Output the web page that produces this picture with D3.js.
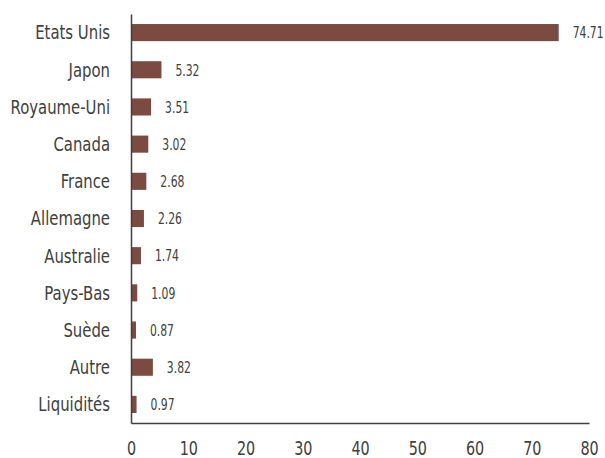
<!DOCTYPE html>
<html><head><meta charset="utf-8">
<script src="https://cdn.jsdelivr.net/npm/d3@7"></script>
<style>body{margin:0;background:#fff}svg{display:block}</style>
</head><body><svg id="c" width="605" height="458"></svg>
<script>
const categories = ["Etats Unis","Japon","Royaume-Uni","Canada","France","Allemagne","Australie","Pays-Bas","Suède","Autre","Liquidités"];
const values = [74.71,5.32,3.51,3.02,2.68,2.26,1.74,1.09,0.87,3.82,0.97];
const xTicks = [0,10,20,30,40,50,60,70,80];

const svg = d3.select("#c");
const font = "'DejaVu Sans Condensed','DejaVu Sans',sans-serif";
const txt = "#404040";
const m = {l:131, r:589, t:14, b:423};
const x = d3.scaleLinear().domain([0,80]).range([m.l, m.r]);
const y = d3.scaleBand().domain(categories).range([m.t, m.b]).paddingInner(0.54).paddingOuter(0.27);

svg.selectAll("rect.bar").data(values).enter().append("rect")
  .attr("x", x(0)).attr("y", (d,i)=>y(categories[i]))
  .attr("width", d=>x(d)-x(0)).attr("height", y.bandwidth())
  .attr("fill", "#7b4a40");

const vs = 0.75;
svg.selectAll("text.val").data(values).enter().append("text")
  .attr("transform",(d,i)=>`translate(${x(d)+14},${y(categories[i])+y.bandwidth()/2}) scale(${vs},1)`)
  .attr("dy","0.36em").attr("font-family",font).attr("font-size",16).attr("fill",txt)
  .text(d=>d.toFixed(2));

const cs = 0.87;
const ya = d3.axisLeft(y).tickSize(0).tickPadding(0);
const gy = svg.append("g").attr("transform",`translate(${m.l},0)`).call(ya);
gy.select(".domain").attr("stroke","#404040").attr("stroke-width",1.5);
gy.selectAll("text").attr("font-family",font).attr("font-size",19).attr("fill",txt)
  .attr("x", -21/cs).attr("transform",`scale(${cs},1)`).attr("dy","0.36em");

const xa = d3.axisBottom(x).tickValues(xTicks).tickSize(0).tickPadding(0).tickFormat(d3.format("d"));
const gx = svg.append("g").attr("transform",`translate(0,${m.b})`).call(xa);
gx.select(".domain").attr("stroke","#404040").attr("stroke-width",1.5);
gx.selectAll("text").attr("font-family",font).attr("font-size",19).attr("fill",txt)
  .attr("y", 32).attr("dy", 0).attr("transform",`scale(0.84,1)`);
</script></body></html>
